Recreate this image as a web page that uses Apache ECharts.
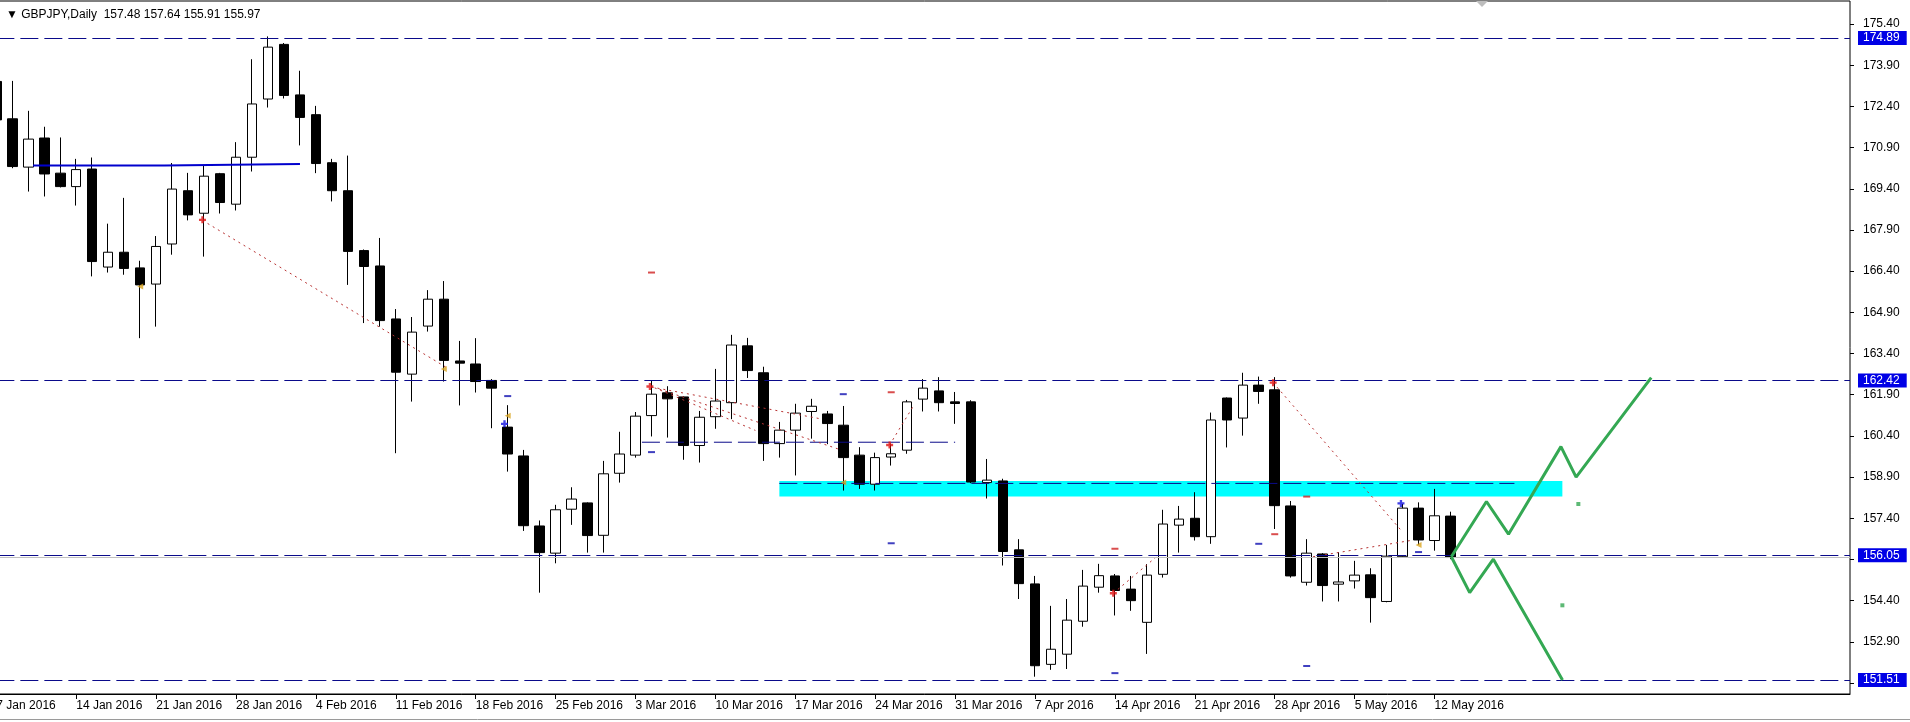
<!DOCTYPE html>
<html><head><meta charset="utf-8">
<script src="https://cdn.jsdelivr.net/npm/echarts@6/dist/echarts.min.js"></script>
<style>html,body{margin:0;padding:0;background:#fff;overflow:hidden}#c{width:1910px;height:722px;}</style>
</head><body><div id="c"></div>
<script>
// ---------- data ----------
const dates = ["7 Jan 2016","8 Jan 2016","11 Jan 2016","12 Jan 2016","13 Jan 2016","14 Jan 2016","15 Jan 2016","18 Jan 2016","19 Jan 2016","20 Jan 2016","21 Jan 2016","22 Jan 2016","25 Jan 2016","26 Jan 2016","27 Jan 2016","28 Jan 2016","29 Jan 2016",
"1 Feb 2016","2 Feb 2016","3 Feb 2016","4 Feb 2016","5 Feb 2016","8 Feb 2016","9 Feb 2016","10 Feb 2016","11 Feb 2016","12 Feb 2016","15 Feb 2016","16 Feb 2016","17 Feb 2016","18 Feb 2016","19 Feb 2016","22 Feb 2016","23 Feb 2016","24 Feb 2016","25 Feb 2016","26 Feb 2016","29 Feb 2016",
"1 Mar 2016","2 Mar 2016","3 Mar 2016","4 Mar 2016","7 Mar 2016","8 Mar 2016","9 Mar 2016","10 Mar 2016","11 Mar 2016","14 Mar 2016","15 Mar 2016","16 Mar 2016","17 Mar 2016","18 Mar 2016","21 Mar 2016","22 Mar 2016","23 Mar 2016","24 Mar 2016","25 Mar 2016","28 Mar 2016","29 Mar 2016","30 Mar 2016","31 Mar 2016",
"1 Apr 2016","4 Apr 2016","5 Apr 2016","6 Apr 2016","7 Apr 2016","8 Apr 2016","11 Apr 2016","12 Apr 2016","13 Apr 2016","14 Apr 2016","15 Apr 2016","18 Apr 2016","19 Apr 2016","20 Apr 2016","21 Apr 2016","22 Apr 2016","25 Apr 2016","26 Apr 2016","27 Apr 2016","28 Apr 2016","29 Apr 2016",
"2 May 2016","3 May 2016","4 May 2016","5 May 2016","6 May 2016","9 May 2016","10 May 2016","11 May 2016","12 May 2016","13 May 2016"];

const opens  = [173.31,171.95,170.19,171.25,169.97,169.48,170.12,166.55,167.09,166.52,165.93,167.39,169.33,168.51,169.95,168.84,170.55,172.67,174.66,172.82,172.10,170.35,169.33,167.15,166.59,164.66,162.65,164.40,165.38,163.13,163.02,162.42,160.72,159.67,157.12,156.13,157.73,157.96,156.78,159.04,159.70,161.14,161.97,161.82,160.05,161.10,161.61,163.68,162.70,160.12,160.61,161.29,161.20,160.79,159.70,158.64,159.63,159.88,161.74,162.04,161.64,161.64,158.70,158.76,156.25,155.01,152.08,152.45,153.65,154.89,155.30,154.82,153.61,155.36,157.15,157.40,156.73,161.78,161.05,162.25,162.08,157.85,155.07,156.10,155.00,155.12,155.34,154.37,156.00,157.77,156.59,157.48];
const highs  = [173.45,173.33,172.24,171.66,171.27,170.49,170.54,168.13,169.07,166.78,167.68,170.34,169.98,170.25,169.98,171.10,174.12,174.95,174.71,173.70,172.42,170.49,170.61,167.19,167.61,165.02,164.73,165.71,166.04,163.86,163.96,162.47,161.52,159.89,157.32,157.89,158.53,157.98,159.49,160.55,161.27,162.42,162.21,161.84,161.31,162.84,164.08,163.97,162.92,160.91,161.57,161.75,161.31,161.49,159.99,159.79,160.10,161.71,162.47,162.54,162.00,161.70,159.56,158.84,156.64,155.30,154.21,154.46,155.52,155.74,155.37,155.30,155.73,157.71,157.85,158.35,161.25,161.80,162.70,162.56,162.54,158.03,156.64,156.13,156.17,155.85,155.58,156.43,157.92,157.98,158.47,157.64];
const lows   = [171.80,170.15,169.30,169.12,169.45,168.79,166.21,166.35,166.27,163.96,164.38,167.00,168.25,166.93,168.50,168.61,170.03,172.36,172.69,170.98,169.97,168.94,165.90,164.51,164.38,159.77,161.65,164.20,162.38,161.51,161.98,160.68,159.10,156.94,154.69,155.76,157.16,156.15,156.15,158.70,159.61,160.38,160.34,159.53,159.43,160.66,161.01,162.51,159.49,159.61,158.96,160.30,160.10,158.41,158.47,158.41,159.32,159.75,161.29,161.29,160.84,158.68,158.12,155.68,154.46,151.63,151.88,151.91,153.45,154.69,153.86,154.03,152.46,155.24,156.15,156.59,156.47,159.98,160.41,161.57,157.01,155.24,154.95,154.37,154.37,154.84,153.60,154.34,155.98,156.43,156.22,155.91];
const closes = [171.91,170.21,171.21,169.94,169.48,170.10,166.75,167.09,166.50,165.90,167.30,169.39,168.45,169.86,168.90,170.55,172.49,174.56,172.80,172.00,170.32,169.33,167.12,166.57,164.60,162.72,164.18,165.38,163.15,163.05,162.38,162.14,159.74,157.13,156.15,157.71,158.10,156.77,159.02,159.74,161.12,161.92,161.75,160.05,161.08,161.67,163.71,162.78,160.12,160.61,161.23,161.48,160.85,159.61,158.64,159.61,159.75,161.64,162.14,161.61,161.58,158.72,158.79,156.19,155.02,152.03,152.63,153.69,154.93,155.31,154.77,154.40,155.33,157.19,157.37,156.73,160.98,160.98,162.25,162.02,157.86,155.30,156.13,154.95,155.08,155.33,154.51,156.02,157.77,156.61,157.49,155.97];

const labeledDates = ["7 Jan 2016","14 Jan 2016","21 Jan 2016","28 Jan 2016","4 Feb 2016","11 Feb 2016","18 Feb 2016","25 Feb 2016","3 Mar 2016","10 Mar 2016","17 Mar 2016","24 Mar 2016","31 Mar 2016","7 Apr 2016","14 Apr 2016","21 Apr 2016","28 Apr 2016","5 May 2016","12 May 2016"];
const futureBars = 25;

const levelPrices = [174.89, 162.42, 156.05, 151.51];
const bidPrice = 155.97;
const yTickStart = 151.4;
const yTickStep = 1.5;
const priceTop = 176.24;
const priceBottom = 151.0;

const header = "GBPJPY,Daily  157.48 157.64 155.91 155.97";

// overlays (x = bar index, y = price)
const zone = [[49, 158.19], [98, 158.76]];
const partialLevels = [
  [[40.4, 160.17], [60.0, 160.17]],
  [[49.0, 158.67], [95.0, 158.67]]
];
const blueStep = [[2.3, 170.25], [10.5, 170.25], [10.5, 170.30], [19.0, 170.30]];
const trendLines = [
  [[12.9, 168.25], [28.2, 162.88]],
  [[41.0, 162.18], [51.7, 161.01]],
  [[41.5, 162.10], [52.7, 159.92]],
  [[41.2, 162.15], [47.5, 160.60]],
  [[55.9, 160.07], [57.4, 161.50]],
  [[69.9, 154.67], [72.6, 156.00]],
  [[79.9, 162.34], [88.0, 156.90]],
  [[82.4, 156.00], [88.6, 156.60]]
];
const zigzagUp = [[91.05, 156.00], [93.25, 158.01], [94.63, 156.82], [97.91, 160.01], [98.86, 158.90], [103.56, 162.52]];
const zigzagDown = [[91.05, 156.00], [92.2, 154.69], [93.68, 155.91], [98.01, 151.51]];
const navyDashes = [[32, 161.85], [41, 159.81], [53, 161.92], [56, 156.49], [70, 151.76], [79, 156.47], [82, 152.02], [89, 156.17]];
const redDashes = [[41, 166.35], [56, 161.99], [70, 156.29], [80, 156.82], [82, 158.19]];
const orangeArrows = [[9, 165.84], [28, 162.84], [32, 161.13], [53, 158.70], [89, 156.43]];
const redArrows = [[12.9, 168.27], [40.9, 162.20], [55.9, 160.07], [69.9, 154.67], [79.9, 162.34]];
const blueArrows = [[31.8, 160.84], [87.9, 157.94]];
const greenDots = [[98, 154.23], [99, 157.92]];

// ---------- chart ----------
const FONT = "'Liberation Sans', Arial, sans-serif";
const categories = dates.concat(new Array(futureBars).fill(''));
const lastIndex = categories.length - 1;
const candles = dates.map((d, i) => [opens[i], closes[i], lows[i], highs[i]]);

const gridLeft = -3.65, gridTop = 1, gridWidth = 1853.65, gridHeight = 693;
const labelGridHeight = gridHeight * (priceTop - yTickStart) / (priceTop - priceBottom);

const navy = '#0A0A8A';
const hiddenParts = { axisLine: { show: false, onZero: false }, axisTick: { show: false }, axisLabel: { show: false }, splitLine: { show: false } };
const lineSeries = (data, color, width, type, z) => ({
  type: 'line', xAxisIndex: 1, yAxisIndex: 0, data, showSymbol: false, symbol: 'none',
  lineStyle: { color, width, type }, silent: true, z, animation: false
});

const series = [
  {
    type: 'line', xAxisIndex: 1, yAxisIndex: 0, data: [], z: 1, silent: true,
    markArea: { silent: true, itemStyle: { color: '#00FFFF', opacity: 1 },
      data: [[{ coord: zone[0] }, { coord: zone[1] }]] }
  },
  {
    type: 'candlestick', xAxisIndex: 0, yAxisIndex: 0, data: candles, barWidth: 10, z: 2,
    itemStyle: { color: '#FFFFFF', color0: '#000000', borderColor: '#000000', borderColor0: '#000000', borderWidth: 1 },
    silent: true
  },
  lineSeries(blueStep, '#0000CD', 2, 'solid', 3)
];
partialLevels.forEach(p => series.push(lineSeries(p, navy, 1, [18, 6], 3)));
trendLines.forEach(p => series.push(lineSeries(p, '#B83232', 1, [2, 4], 3)));
series.push({
  type: 'line', xAxisIndex: 1, yAxisIndex: 0, data: [], z: 4, silent: true,
  markLine: {
    silent: true, symbol: ['none', 'none'], animation: false,
    data: levelPrices.map(v => ({
      yAxis: v,
      lineStyle: { color: navy, width: 1, type: [18, 6] },
      label: { show: true, position: 'end', distance: 8, formatter: v.toFixed(2),
        backgroundColor: '#0000E6', color: '#FFFFFF', padding: [1, 7, 0, 5],
        fontSize: 12, fontFamily: FONT, lineHeight: 13 }
    })).concat([{ yAxis: bidPrice, lineStyle: { color: '#C0C0C0', width: 1, type: 'solid' }, label: { show: false } }])
  }
});
series.push(lineSeries(zigzagUp, '#34A853', 3, 'solid', 5));
series.push(lineSeries(zigzagDown, '#34A853', 3, 'solid', 5));
const scatter = (data, symbol, size, color, rotate) => ({
  type: 'scatter', xAxisIndex: 1, yAxisIndex: 0, data, symbol, symbolSize: size,
  symbolRotate: rotate || 0, itemStyle: { color }, silent: true, z: 6, animation: false
});
series.push(scatter(navyDashes, 'rect', [7, 2], '#1010B0'));
series.push(scatter(redDashes, 'rect', [7, 2], '#D02020'));
series.push(scatter(orangeArrows, 'triangle', [6, 6], '#DAA520', 90));
series.push(scatter(redArrows, 'path://M2,0H4V2H6V4H4V6H2V4H0V2H2Z', 7, '#E01010'));
series.push(scatter(blueArrows, 'path://M2,0H4V2H6V4H4V6H2V4H0V2H2Z', 7, '#1010E0'));
series.push(scatter(greenDots, 'rect', 4, '#34A853'));

const option = {
  animation: false,
  backgroundColor: '#FFFFFF',
  textStyle: { fontFamily: FONT },
  title: { text: '\u25BC ' + header, left: 1, top: 4,
    textStyle: { fontSize: 12, fontWeight: 'normal', color: '#000', fontFamily: FONT } },
  grid: [
    { left: gridLeft, top: gridTop, width: gridWidth, height: gridHeight, show: true,
      borderColor: '#000', borderWidth: 1, backgroundColor: '#FFFFFF',
      containLabel: false, outerBoundsMode: 'none' },
    { left: gridLeft, top: gridTop, width: gridWidth, height: labelGridHeight,
      containLabel: false, outerBoundsMode: 'none' }
  ],
  xAxis: [
    { type: 'category', gridIndex: 0, data: categories, boundaryGap: false,
      axisLine: { show: true, onZero: false, lineStyle: { color: '#000', width: 1 } },
      axisTick: { show: true, alignWithLabel: true, length: 5, lineStyle: { color: '#000' },
        interval: (i, v) => labeledDates.includes(v) },
      axisLabel: { show: true, interval: (i, v) => labeledDates.includes(v), align: 'left',
        margin: 6, fontSize: 12, color: '#000', fontFamily: FONT },
      splitLine: { show: false } },
    Object.assign({ type: 'value', gridIndex: 0, min: 0, max: lastIndex, show: false }, hiddenParts),
    Object.assign({ type: 'value', gridIndex: 1, min: 0, max: lastIndex, show: false }, hiddenParts)
  ],
  yAxis: [
    Object.assign({ type: 'value', gridIndex: 0, min: priceBottom, max: priceTop, show: false }, hiddenParts),
    { type: 'value', gridIndex: 1, position: 'right', min: yTickStart, max: priceTop, interval: yTickStep,
      axisLine: { show: false, onZero: false },
      axisTick: { show: true, length: 4, lineStyle: { color: '#000' } },
      splitLine: { show: false },
      axisLabel: { margin: 13, fontSize: 12, color: '#000', fontFamily: FONT,
        showMaxLabel: false,
        formatter: v => {
          const k = (v - yTickStart) / yTickStep;
          if (Math.abs(k - Math.round(k)) > 0.01) return '';
          if (levelPrices.some(l => Math.abs(l - v) < 0.2)) return '';
          return v.toFixed(2);
        } } }
  ],
  graphic: [
    { type: 'polygon', shape: { points: [[1476, 1], [1488, 1], [1482, 7]] }, style: { fill: '#BDBDBD' }, z: 100 },
    { type: 'line', shape: { x1: 0, y1: 719.5, x2: 1910, y2: 719.5 }, style: { stroke: '#9A9A9A', lineWidth: 1 } }
  ],
  series
};
const chart = echarts.init(document.getElementById('c'), null, { renderer: 'canvas' });
chart.setOption(option);
</script></body></html>
